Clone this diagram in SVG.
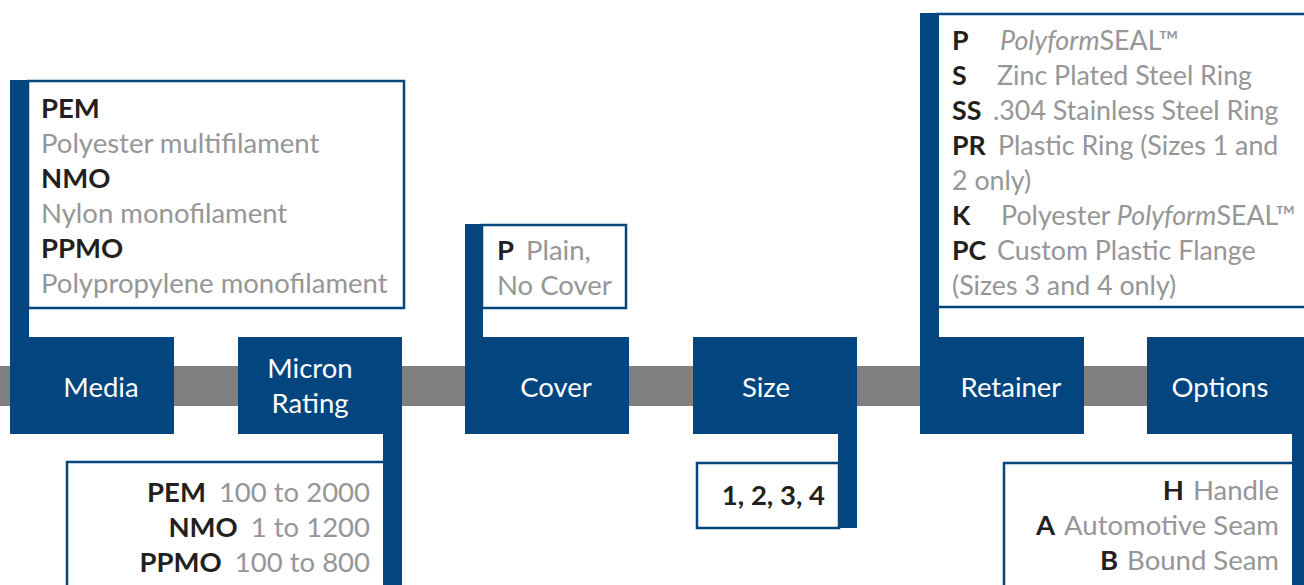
<svg xmlns="http://www.w3.org/2000/svg" width="1304" height="585" viewBox="0 0 1304 585">
<style>
.blue{fill:#02457f}
.tb{fill:#ffffff;stroke:#02457f;stroke-width:2.5}
text{font-family:Lato,"Liberation Sans",sans-serif;font-size:27.5px}
.lbl{fill:#ffffff;text-anchor:middle}
.k{fill:#231f20;font-weight:bold}
.g{fill:#969696}
.i{font-style:italic}
.r{font-size:26.8px}
</style>
<rect width="1304" height="585" fill="#ffffff"/>
<g id="connectors">
<rect x="0" y="366" width="1304" height="40" fill="#808080"/>
</g>
<g id="media">
<rect class="tb" x="28" y="81" width="376" height="227"/>
<rect class="blue" x="10" y="80" width="19" height="260"/>
<rect class="blue" x="10" y="337" width="164" height="97"/>
<text class="lbl" x="101" y="397">Media</text>
<text x="41" y="118" class="k">PEM</text>
<text x="41" y="153" class="g">Polyester multifilament</text>
<text x="41" y="188" class="k">NMO</text>
<text x="41" y="223" class="g">Nylon monofilament</text>
<text x="41" y="258" class="k">PPMO</text>
<text x="41" y="293" class="g">Polypropylene monofilament</text>
</g>
<g id="micron">
<rect class="tb" x="67" y="462" width="318" height="140"/>
<rect class="blue" x="238" y="337" width="164" height="97"/>
<rect class="blue" x="383" y="337" width="19" height="260"/>
<text class="lbl" x="310" y="378">Micron</text>
<text class="lbl" x="310" y="413">Rating</text>
<text x="370" y="502" text-anchor="end"><tspan class="k">PEM</tspan><tspan class="g" dx="13">100 to 2000</tspan></text>
<text x="370" y="537" text-anchor="end"><tspan class="k">NMO</tspan><tspan class="g" dx="13">1 to 1200</tspan></text>
<text x="370" y="572" text-anchor="end"><tspan class="k">PPMO</tspan><tspan class="g" dx="13">100 to 800</tspan></text>
</g>
<g id="cover">
<rect class="tb" x="482" y="225" width="144" height="83"/>
<rect class="blue" x="465" y="224" width="18" height="115"/>
<rect class="blue" x="465" y="337" width="164" height="97"/>
<text class="lbl" x="556" y="397">Cover</text>
<text x="497" y="260" class="k">P</text>
<text x="526" y="260" class="g">Plain,</text>
<text x="497" y="295" class="g">No Cover</text>
</g>
<g id="size">
<rect class="tb" x="697" y="463" width="142" height="65"/>
<rect class="blue" x="693" y="337" width="164" height="97"/>
<rect class="blue" x="838" y="337" width="19" height="191"/>
<text class="lbl" x="766" y="397">Size</text>
<text x="825" y="505" text-anchor="end" class="k">1, 2, 3, 4</text>
</g>
<g id="retainer">
<rect class="tb" x="937" y="14" width="380" height="293"/>
<rect class="blue" x="920" y="13" width="19" height="326"/>
<rect class="blue" x="920" y="337" width="164" height="97"/>
<text class="lbl" x="1011" y="397">Retainer</text>
<text x="952" y="50" class="k r">P</text>
<text x="1000" y="50" class="g r"><tspan class="i">Polyform</tspan>SEAL™</text>
<text x="952" y="85" class="k r">S</text>
<text x="997" y="85" class="g r">Zinc Plated Steel Ring</text>
<text x="952" y="120" class="k r">SS</text>
<text x="993" y="120" class="g r">.304 Stainless Steel Ring</text>
<text x="952" y="155" class="k r">PR</text>
<text x="998" y="155" class="g r">Plastic Ring (Sizes 1 and</text>
<text x="952" y="190" class="g r">2 only)</text>
<text x="952" y="225" class="k r">K</text>
<text x="1001" y="225" class="g r">Polyester <tspan class="i">Polyform</tspan>SEAL™</text>
<text x="952" y="260" class="k r">PC</text>
<text x="997" y="260" class="g r">Custom Plastic Flange</text>
<text x="952" y="295" class="g r">(Sizes 3 and 4 only)</text>
</g>
<g id="options">
<rect class="tb" x="1004" y="463" width="290" height="140"/>
<rect class="blue" x="1147" y="337" width="164" height="97"/>
<rect class="blue" x="1292" y="337" width="19" height="260"/>
<text class="lbl" x="1220" y="397">Options</text>
<text x="1279" y="500" text-anchor="end"><tspan class="k">H</tspan><tspan class="g" dx="9">Handle</tspan></text>
<text x="1279" y="535" text-anchor="end"><tspan class="k">A</tspan><tspan class="g" dx="9">Automotive Seam</tspan></text>
<text x="1279" y="570" text-anchor="end"><tspan class="k">B</tspan><tspan class="g" dx="9">Bound Seam</tspan></text>
</g>
</svg>
